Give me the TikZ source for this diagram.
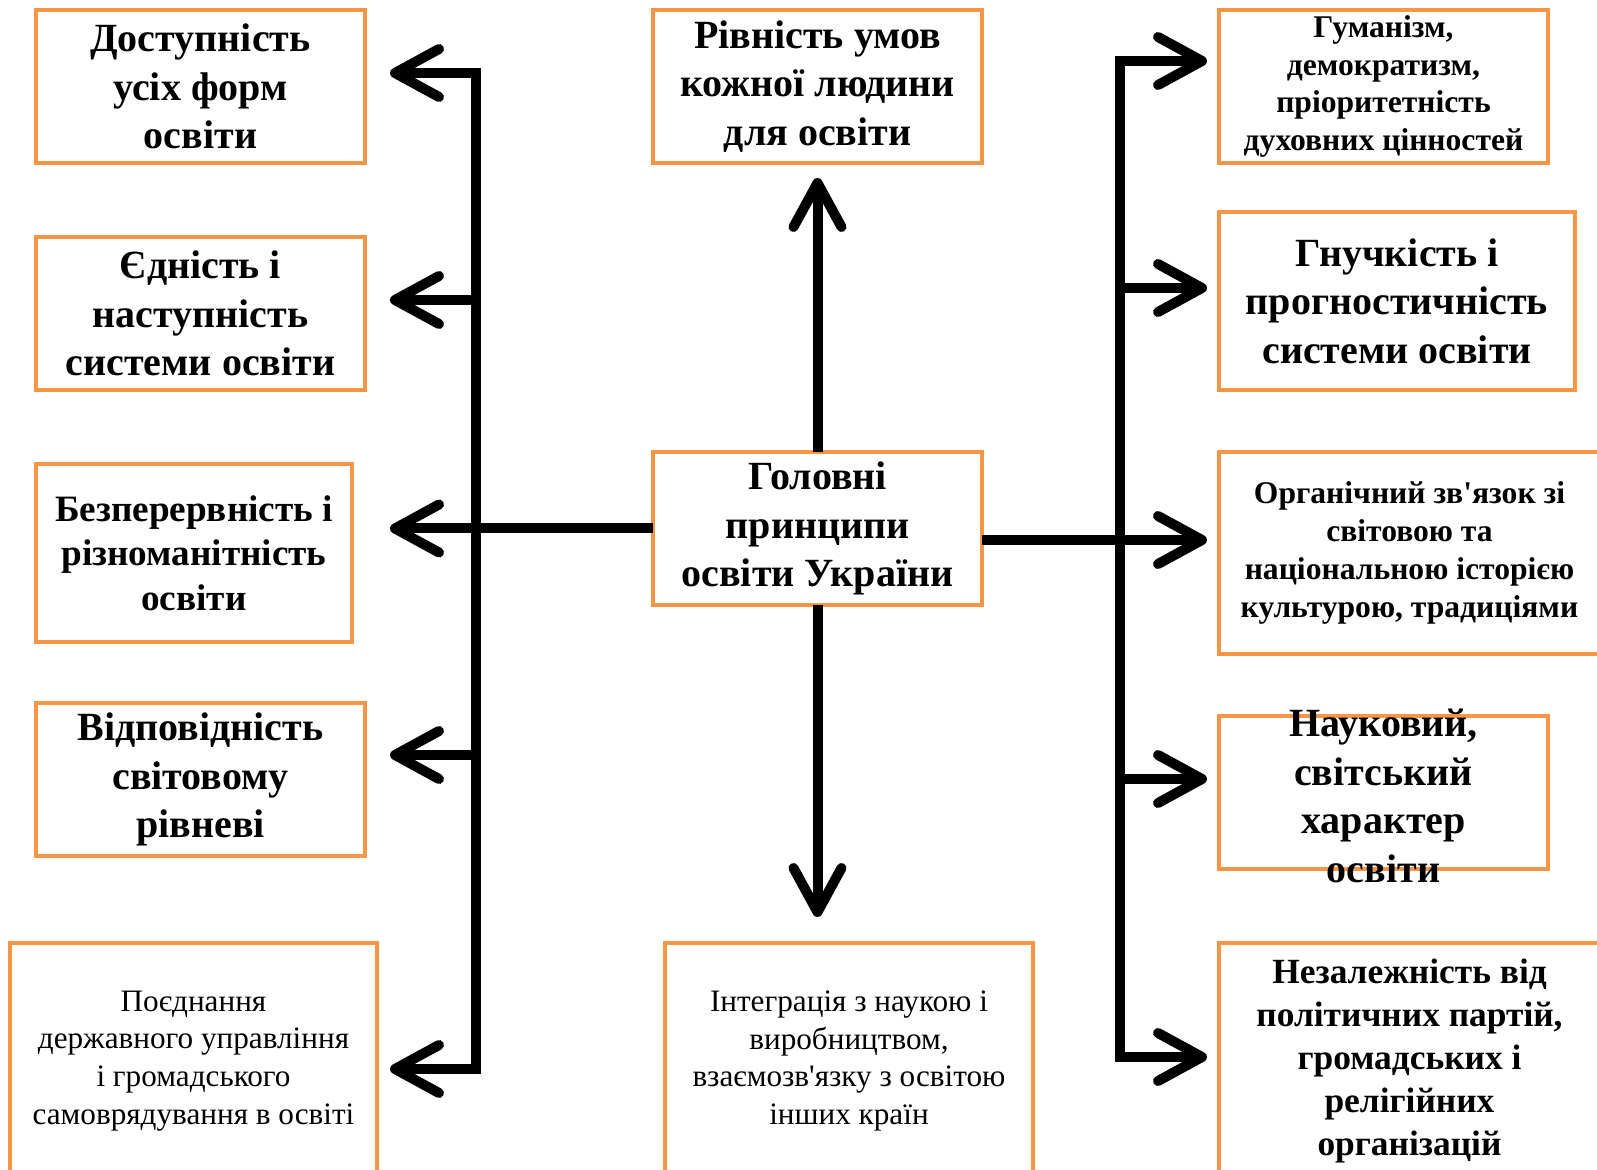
\documentclass[tikz,border=0pt]{standalone}
\usepackage{fontspec}
\setmainfont{Liberation Serif}
\usetikzlibrary{arrows.meta,positioning}
\definecolor{boxorange}{HTML}{F79646}
\tikzset{
    principle box/.style={
        rectangle,
        draw=boxorange,
        line width=2pt,
        fill=white,
        inner sep=0pt,
        outer sep=0pt,
        align=center,
        font=\bfseries\fontsize{20}{24.2}\selectfont
    },
    box wh/.style 2 args={minimum width=#1*0.5pt, minimum height=#2*0.5pt},
    mid font/.style={font=\bfseries\fontsize{15.8}{18.9}\selectfont},
    plain font/.style={font=\fontsize{15.6}{18.9}\selectfont},
    spine/.style={line width=5pt, line join=miter},
    tip/.style={-{Straight Barb[round,length=22pt,width=24pt]}},
    tip both/.style={{Straight Barb[round,length=22pt,width=24pt]}-{Straight Barb[round,length=22pt,width=24pt]}}
}

\begin{document}
\begin{tikzpicture}[x=0.5pt, y=-0.5pt]

\fill[white] (0,0) rectangle (1597,1170);
\useasboundingbox (0,0) rectangle (1597,1170);

% left column
\node[principle box, box wh={329}{153}] (acc) at (200.5,86.5) {Доступність\\усіх форм\\освіти};
\node[principle box, box wh={329}{153}] (uni) at (200.5,313.5) {Єдність і\\наступність\\системи освіти};
\node[principle box, box wh={316}{178}, font=\bfseries\fontsize{18.6}{22.2}\selectfont] (cont) at (194,553) {Безперервність і\\різноманітність\\освіти};
\node[principle box, box wh={329}{153}] (world) at (200.5,779.5) {Відповідність\\світовому\\рівневі};
\node[principle box, box wh={367}{236}, plain font] (gov) at (193.5,1061) {Поєднання\\державного управління\\і громадського\\самоврядування в освіті};

% middle column
\node[principle box, box wh={329}{153}] (eq) at (817.5,86.5) {Рівність умов\\кожної людини\\для освіти};
\node[principle box, box wh={329}{153}] (main) at (817.5,528.5) {Головні\\принципи\\освіти України};
\node[principle box, box wh={368}{236}, plain font] (integ) at (849,1061) {Інтеграція з наукою і\\виробництвом,\\взаємозв\textquotesingle язку з освітою\\інших країн};

% right column
\node[principle box, box wh={329}{153}, mid font] (hum) at (1383.5,86.5) {Гуманізм,\\демократизм,\\пріоритетність\\духовних цінностей};
\node[principle box, box wh={356}{178}] (flex) at (1397,301) {Гнучкість і\\прогностичність\\системи освіти};
\node[principle box, box wh={381}{202}, mid font] (org) at (1409.5,553) {Органічний зв\textquotesingle язок зі\\світовою та\\національною історією\\культурою, традиціями};
\node[principle box, box wh={329}{153}] (sci) at (1383.5,792.5) {};
\node[principle box, draw=none, fill=none] (scitext) at (1383.5,796) {Науковий,\\світський\\характер\\освіти};
\node[principle box, box wh={381}{236}, font=\bfseries\fontsize{17.7}{21.4}\selectfont] (ind) at (1409.5,1061) {Незалежність від\\політичних партій,\\громадських і\\релігійних\\організацій};

% spines
\coordinate (L1) at (476,73);
\coordinate (L2) at (476,300);
\coordinate (L4) at (476,755);
\coordinate (L5) at (476,1069);
\coordinate (R1) at (1120,61);
\coordinate (R2) at (1120,288);
\coordinate (R4) at (1120,779);
\coordinate (R5) at (1120,1057);
\coordinate (mainR) at ([yshift=-5.75pt]main.east);

\draw[spine, tip both, shorten <=12.5pt, shorten >=6.5pt] (acc.east |- L1) -- (L1) -- (L5) -- (gov.east |- L5);
\draw[spine, tip, shorten >=12.5pt] (L2) -- (uni.east |- L2);
\draw[spine, tip, shorten >=12.5pt] (L4) -- (world.east |- L4);
\draw[spine, tip, shorten >=19pt] (main.west) -- (cont.east |- main.west);

\draw[spine, tip both, shorten <=6pt, shorten >=6pt] (hum.west |- R1) -- (R1) -- (R5) -- (ind.west |- R5);
\draw[spine, tip, shorten >=6pt] (R2) -- (flex.west |- R2);
\draw[spine, tip, shorten >=6pt] (R4) -- (sci.west |- R4);
\draw[spine, tip, shorten >=6pt] (mainR) -- (org.west |- mainR);

\draw[spine, tip, shorten >=7.5pt] (main.north) -- (eq.south);
\draw[spine, tip, shorten >=13pt] (main.south) -- (main.south |- integ.north);

\end{tikzpicture}
\end{document}
